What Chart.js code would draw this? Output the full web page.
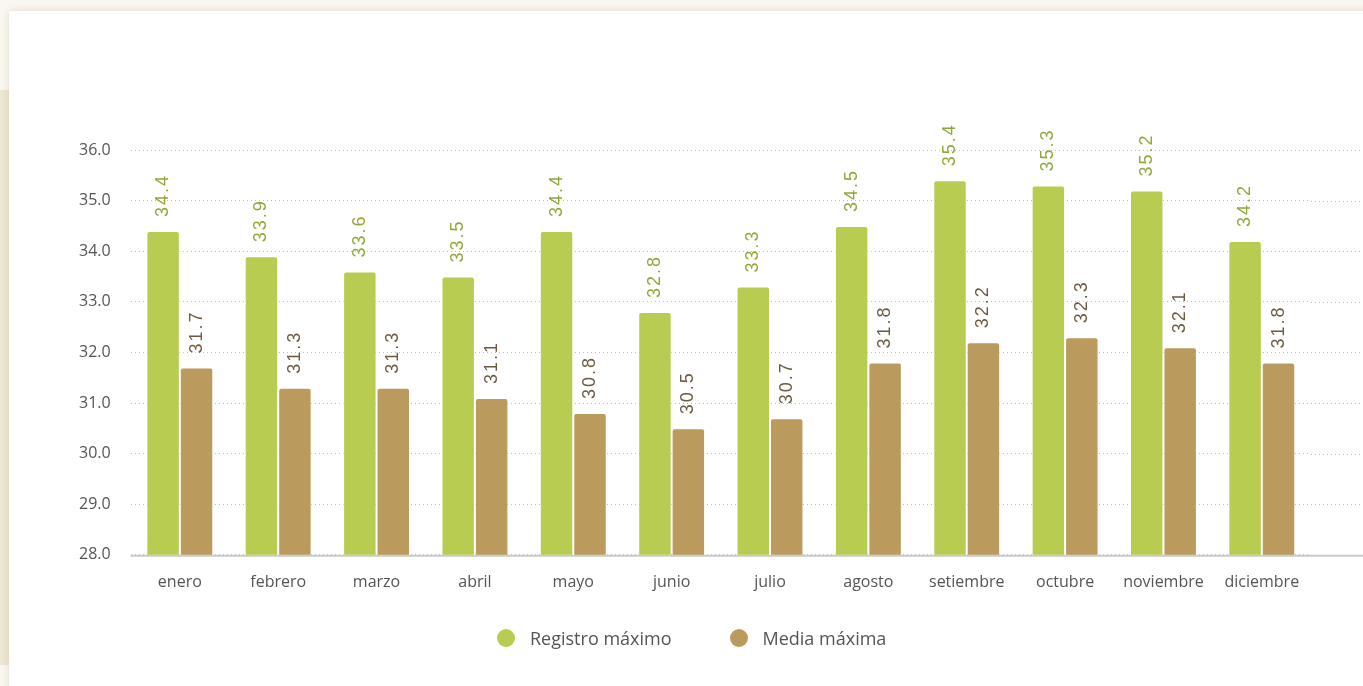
<!DOCTYPE html>
<html lang="es">
<head>
<meta charset="utf-8">
<title>Temperatura máxima</title>
<script src="https://cdn.jsdelivr.net/npm/chart.js@4.4.1/dist/chart.umd.min.js"></script>
<style>
    html, body {
        margin: 0;
        width: 1363px;
        height: 686px;
        overflow: hidden;
        background: #faf7f0;
    }
    .strip {
        position: absolute;
        left: 0;
        top: 90px;
        width: 40px;
        height: 575px;
        background: #efe7d3;
    }
    .card {
        position: absolute;
        left: 9px;
        top: 11px;
        width: 1400px;
        height: 700px;
        background: #fff;
        box-shadow: 0 0 8px rgba(120, 100, 60, 0.18);
    }
    #wrap {
        position: absolute;
        left: 9px;
        top: 11px;
        width: 1354px;
        height: 675px;
    }
    #legend {
        position: absolute;
        left: 497px;
        top: 626px;
        height: 24px;
        display: flex;
        align-items: center;
        font: 18px "Open Sans", Lato, sans-serif;
        color: #555;
    }
    #legend .item {
        display: flex;
        align-items: center;
        margin-right: 58px;
    }
    #legend .dot {
        width: 18px;
        height: 18px;
        border-radius: 50%;
        margin-right: 15px;
    }
</style>
</head>
<body>
<div class="strip"></div>
<div class="card"></div>
<div id="wrap"><canvas id="temp-chart"></canvas></div>
<div id="legend"></div>
<script>
const months = ['enero', 'febrero', 'marzo', 'abril', 'mayo', 'junio', 'julio',
    'agosto', 'setiembre', 'octubre', 'noviembre', 'diciembre'];
const registroMaximo = [34.4, 33.9, 33.6, 33.5, 34.4, 32.8, 33.3, 34.5, 35.4, 35.3, 35.2, 34.2];
const mediaMaxima = [31.7, 31.3, 31.3, 31.1, 30.8, 30.5, 30.7, 31.8, 32.2, 32.3, 32.1, 31.8];
const yTicks = [28, 29, 30, 31, 32, 33, 34, 35, 36];

const GREEN = '#b8cc52';
const BROWN = '#bb9a5e';
const FONT = '"Open Sans", Lato, sans-serif';

// vertical value labels above each bar
const barLabels = {
    id: 'barLabels',
    afterDatasetsDraw(chart) {
        const ctx = chart.ctx;
        chart.data.datasets.forEach((ds, i) => {
            const meta = chart.getDatasetMeta(i);
            meta.data.forEach((bar, j) => {
                ctx.save();
                ctx.translate(bar.x, bar.y - 14);
                ctx.rotate(-Math.PI / 2);
                ctx.font = '18px "Liberation Sans", Arial, sans-serif';
                ctx.letterSpacing = '2px';
                ctx.fillStyle = ds.labelColor;
                ctx.textAlign = 'left';
                ctx.textBaseline = 'middle';
                ctx.fillText(ds.data[j].toFixed(1), 0, 0);
                ctx.restore();
            });
        });
    }
};

// the grid and baseline run on past the last month to the card edge
const extendGrid = {
    id: 'extendGrid',
    beforeDatasetsDraw(chart) {
        const ctx = chart.ctx;
        const area = chart.chartArea;
        const y = chart.scales.y;
        ctx.save();
        ctx.strokeStyle = '#bdbdbd';
        ctx.lineWidth = 1;
        ctx.setLineDash([1, 3]);
        y.ticks.forEach(t => {
            if (t.value === 28) return;
            const py = Math.round(y.getPixelForValue(t.value)) + 0.5;
            ctx.beginPath();
            ctx.moveTo(area.right, py);
            ctx.lineTo(chart.width, py);
            ctx.stroke();
        });
        ctx.setLineDash([]);
        ctx.strokeStyle = '#c9c9d2';
        ctx.lineWidth = 2;
        ctx.beginPath();
        ctx.moveTo(area.left, area.bottom + 1);
        ctx.lineTo(chart.width, area.bottom + 1);
        ctx.stroke();
        ctx.restore();
    }
};

const ctx = document.getElementById('temp-chart').getContext('2d');
const tempChart = new Chart(ctx, {
    type: 'bar',
    data: {
        labels: months,
        datasets: [{
            label: 'Registro máximo',
            data: registroMaximo,
            backgroundColor: GREEN,
            borderColor: 'rgba(255, 255, 255, 0.6)',
            borderWidth: 1,
            borderRadius: 3,
            borderSkipped: 'bottom',
            categoryPercentage: 0.68,
            barPercentage: 1.0,
            labelColor: '#8fa83a',
        }, {
            label: 'Media máxima',
            data: mediaMaxima,
            backgroundColor: BROWN,
            borderColor: 'rgba(255, 255, 255, 0.6)',
            borderWidth: 1,
            borderRadius: 3,
            borderSkipped: 'bottom',
            categoryPercentage: 0.68,
            barPercentage: 1.0,
            labelColor: '#6b5b3e',
        }]
    },
    options: {
        responsive: true,
        maintainAspectRatio: false,
        animation: false,
        layout: {
            padding: { top: 139, right: 52, bottom: 84, left: 50 }
        },
        plugins: {
            legend: { display: false },
            tooltip: { enabled: false }
        },
        scales: {
            x: {
                grid: { display: false },
                border: { display: false },
                ticks: {
                    color: '#555',
                    padding: 10,
                    maxRotation: 0,
                    font: { family: FONT, size: 16 }
                }
            },
            y: {
                min: 28,
                max: 36,
                afterBuildTicks: axis => {
                    axis.ticks = yTicks.map(v => ({ value: v }));
                },
                border: { display: false, dash: [1, 3] },
                grid: {
                    color: '#bdbdbd',
                    drawTicks: false,
                },
                ticks: {
                    color: '#555',
                    padding: 20,
                    font: { family: FONT, size: 16 },
                    callback: v => v.toFixed(1)
                }
            }
        }
    },
    plugins: [extendGrid, barLabels]
});

// legend built from the datasets
const legend = document.getElementById('legend');
tempChart.data.datasets.forEach(ds => {
    const item = document.createElement('div');
    item.className = 'item';
    const dot = document.createElement('span');
    dot.className = 'dot';
    dot.style.background = ds.backgroundColor;
    const text = document.createElement('span');
    text.textContent = ds.label;
    item.appendChild(dot);
    item.appendChild(text);
    legend.appendChild(item);
});
</script>
</body>
</html>
